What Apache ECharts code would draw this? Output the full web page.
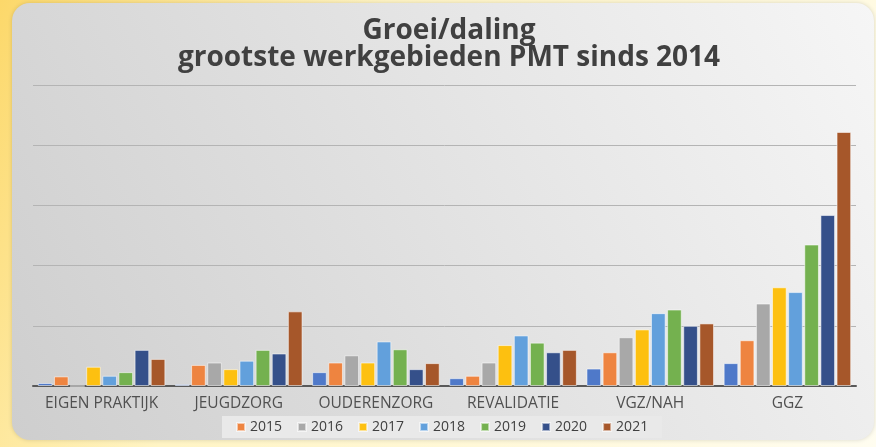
<!DOCTYPE html>
<html>
<head>
<meta charset="utf-8">
<script src="https://cdn.jsdelivr.net/npm/echarts@6/dist/echarts.min.js"></script>
<style>
  html, body { margin: 0; padding: 0; background: #fffbe6; }
  #chart { width: 876px; height: 447px; }
</style>
</head>
<body>
<div id="chart"></div>
<script>
const categories = ['EIGEN PRAKTIJK', 'JEUGDZORG', 'OUDERENZORG', 'REVALIDATIE', 'VGZ/NAH', 'GGZ'];
const years = ['2014', '2015', '2016', '2017', '2018', '2019', '2020', '2021'];
const legendYears = ['2015', '2016', '2017', '2018', '2019', '2020', '2021'];

const y2014 = [0.05, 0.03, 0.23, 0.13, 0.29, 0.38];
const y2015 = [0.16, 0.35, 0.39, 0.17, 0.56, 0.76];
const y2016 = [0, 0.39, 0.51, 0.39, 0.81, 1.37];
const y2017 = [0.32, 0.28, 0.39, 0.68, 0.94, 1.64];
const y2018 = [0.17, 0.42, 0.74, 0.84, 1.21, 1.56];
const y2019 = [0.23, 0.60, 0.61, 0.72, 1.27, 2.35];
const y2020 = [0.60, 0.54, 0.28, 0.56, 1.00, 2.84];
const y2021 = [0.45, 1.24, 0.38, 0.60, 1.04, 4.22];

const values = [y2014, y2015, y2016, y2017, y2018, y2019, y2020, y2021];
const colors = ['#4f79c9', '#ee8440', '#a8a8a8', '#fdc010', '#62a0dc', '#74b14f', '#35508a', '#a6572a'];

const initChart = function () {
  const myChart = echarts.init(document.getElementById('chart'));

  const series = years.map(function (y, i) {
    return {
      name: y,
      type: 'bar',
      data: values[i],
      barGap: '10%',
      barCategoryGap: '7%',
      itemStyle: {
        color: colors[i],
        borderColor: 'rgba(255,255,255,0.55)',
        borderWidth: 1
      }
    };
  });

  const option = {
    animation: false,
    color: colors,
    graphic: [
      {
        type: 'rect',
        z: -10,
        shape: { x: 0, y: 0, width: 876, height: 447 },
        style: {
          fill: new echarts.graphic.LinearGradient(0, 0, 1, 1, [
            { offset: 0, color: '#fcd86a' },
            { offset: 0.35, color: '#fff4c4' },
            { offset: 1, color: '#fffdf0' }
          ])
        }
      },
      {
        type: 'rect',
        z: -9,
        shape: { x: 12, y: 3, width: 862, height: 437, r: 18 },
        style: {
          fill: new echarts.graphic.LinearGradient(1, 0, 0, 1, [
            { offset: 0, color: '#f6f6f6' },
            { offset: 1, color: '#cecece' }
          ]),
          shadowBlur: 4,
          shadowColor: 'rgba(0,0,0,0.15)'
        }
      }
    ],
    title: {
      text: 'Groei/daling\ngrootste werkgebieden PMT sinds 2014',
      left: 444,
      textAlign: 'center',
      top: 13,
      textStyle: {
        fontFamily: 'Open Sans',
        fontWeight: 'bold',
        fontSize: 28,
        lineHeight: 27,
        color: '#404040'
      }
    },
    legend: {
      data: legendYears,
      left: 222,
      top: 416,
      backgroundColor: '#e9e9e9',
      padding: [4, 14],
      itemWidth: 8,
      itemHeight: 8,
      itemGap: 15,
      icon: 'rect',
      textStyle: {
        fontFamily: 'Open Sans',
        fontSize: 14,
        color: '#404040'
      }
    },
    grid: {
      left: 33,
      right: 20,
      top: 85,
      bottom: 61
    },
    xAxis: {
      type: 'category',
      data: categories,
      axisLine: { lineStyle: { color: '#595959', width: 2 } },
      axisTick: { show: false },
      axisLabel: {
        interval: 0,
        margin: 10,
        fontFamily: 'Open Sans',
        fontSize: 15.5,
        color: '#505050'
      }
    },
    yAxis: {
      type: 'value',
      min: 0,
      max: 5,
      interval: 1,
      axisLabel: { show: false },
      axisLine: { show: false },
      axisTick: { show: false },
      splitLine: { lineStyle: { color: '#b4b4b4', width: 1 } }
    },
    series: series
  };

  myChart.setOption(option);
};

window.addEventListener('load', function () {
  initChart();
});
</script>
</body>
</html>
